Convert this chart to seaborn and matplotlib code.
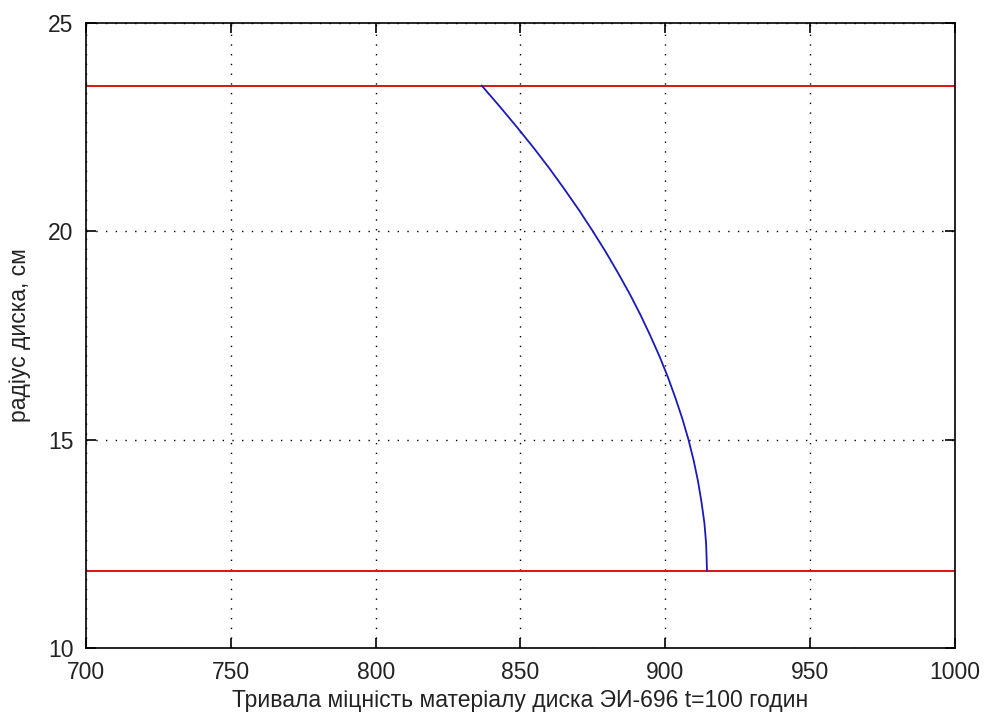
import matplotlib
matplotlib.use("Agg")
import matplotlib.pyplot as plt
import seaborn as sns
import pandas as pd

# Long-term strength of disk material EI-696 (t = 100 h) along the disk radius
strength = [836.6, 842.8, 848.8, 854.6, 860.1, 865.3, 870.3, 875.0, 879.5,
            883.7, 887.7, 891.4, 894.8, 898.0, 900.9, 903.5, 905.9, 908.0,
            909.8, 911.3, 912.5, 913.5, 914.1, 914.4]
radius = [23.5, 23.0, 22.5, 22.0, 21.5, 21.0, 20.5, 20.0, 19.5,
          19.0, 18.5, 18.0, 17.5, 17.0, 16.5, 16.0, 15.5, 15.0,
          14.5, 14.0, 13.5, 13.0, 12.5, 11.85]

# Outer and inner disk radii, cm
radius_bounds = [23.5, 11.85]

x_ticks = [700, 750, 800, 850, 900, 950, 1000]
y_ticks = [10, 15, 20, 25]

sns.set_theme(style="white")
plt.rcParams["font.family"] = ["Liberation Sans", "DejaVu Sans"]

fig = plt.figure(figsize=(9.85, 7.17), dpi=100)
ax = fig.add_axes([0.0873, 0.0962, 0.8822, 0.8717])

df = pd.DataFrame({"strength": strength, "radius": radius})
sns.lineplot(data=df, x="strength", y="radius", sort=False, ax=ax,
             color="#1a1ab8", linewidth=1.3, zorder=3)

for r in radius_bounds:
    ax.axhline(r, color="#d41515", linewidth=1.4, zorder=2)

ax.set_xlim(700, 1000)
ax.set_ylim(10, 25)
ax.set_xticks(x_ticks)
ax.set_yticks(y_ticks)
ax.set_xticklabels([str(t) for t in x_ticks])
ax.set_yticklabels([str(t) for t in y_ticks])

ax.grid(True, linestyle=(0, (1, 6)), color="black", linewidth=1.0)
ax.tick_params(direction="in", length=7, width=1.2, top=True, right=True,
               bottom=True, left=True, labelsize=16.5, colors="black",
               labelcolor="#222222", pad=9)
for sp in ax.spines.values():
    sp.set_color("black")
    sp.set_linewidth(1.2)

ax.set_xlabel("Тривала міцність матеріалу диска ЭИ-696 t=100 годин",
              fontsize=16.5, color="#222222", labelpad=4)
ax.set_ylabel("радіус диска, см", fontsize=16.5, color="#222222", labelpad=12)

fig.savefig("out.png", dpi=100)
